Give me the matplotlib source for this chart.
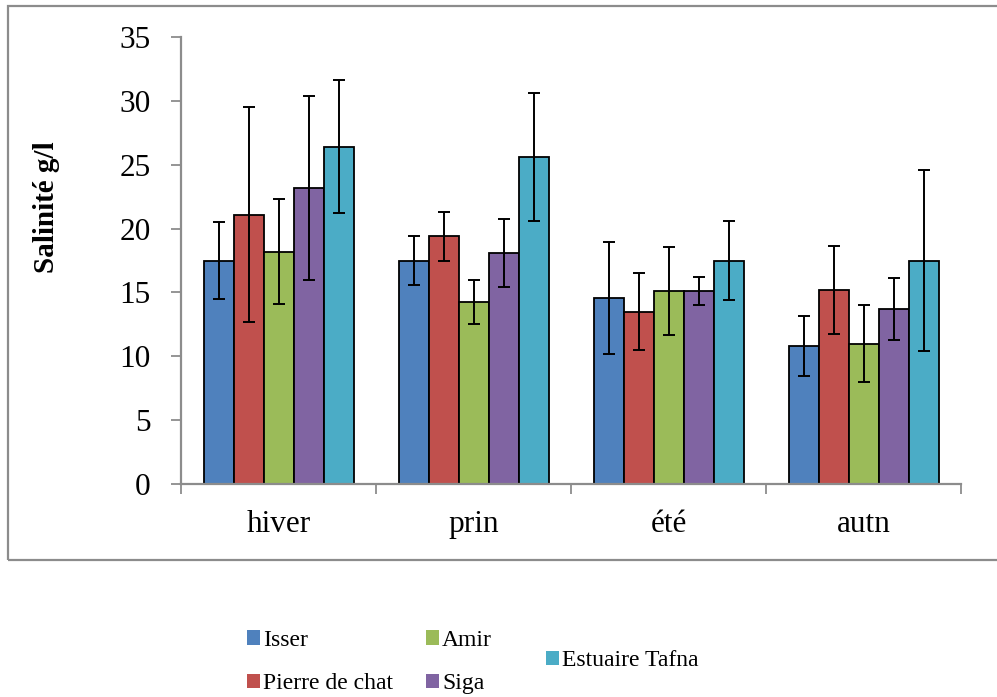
import numpy as np
import matplotlib
matplotlib.use("Agg")
import matplotlib.pyplot as plt
from matplotlib.patches import Rectangle, Patch

plt.rcParams["font.family"] = ["Liberation Serif", "DejaVu Serif"]

# données
saisons = ["hiver", "prin", "été", "autn"]
stations = ["Isser", "Pierre de chat", "Amir", "Siga", "Estuaire Tafna"]
couleurs = ["#4F81BD", "#C0504D", "#9BBB59", "#8064A2", "#4BACC6"]

isser = [17.5, 17.5, 14.55, 10.8]
pierre = [21.1, 19.4, 13.5, 15.2]
amir = [18.2, 14.25, 15.1, 11.0]
siga = [23.2, 18.1, 15.1, 13.7]
tafna = [26.4, 25.6, 17.5, 17.5]

err_isser = [3.0, 1.9, 4.4, 2.35]
err_pierre = [8.4, 1.9, 3.0, 3.45]
err_amir = [4.1, 1.7, 3.45, 3.0]
err_siga = [7.2, 2.65, 1.1, 2.4]
err_tafna = [5.2, 5.0, 3.1, 7.1]

valeurs = [isser, pierre, amir, siga, tafna]
erreurs = [err_isser, err_pierre, err_amir, err_siga, err_tafna]

fig = plt.figure(figsize=(9.97, 6.97), dpi=100)
fig.patch.set_facecolor("white")

# cadre extérieur du graphique
fig.patches.append(Rectangle((8 / 997, 1 - 560 / 697), 1.2, 554 / 697,
                             transform=fig.transFigure, fill=False,
                             edgecolor="#8c8c8c", linewidth=1.6, zorder=0))

ax = fig.add_axes([181 / 997, 1 - 484 / 697, (961 - 181) / 997, (484 - 37) / 697])

x = np.arange(len(saisons))
larg = 1 / 6.5
for i, (vals, errs) in enumerate(zip(valeurs, erreurs)):
    pos = x + (i - 2) * larg
    ax.bar(pos, vals, width=larg, color=couleurs[i], edgecolor="black",
           linewidth=1.3, label=stations[i], zorder=2)
    ax.errorbar(pos, vals, yerr=errs, fmt="none", ecolor="black",
                elinewidth=1.4, capsize=4.6, capthick=1.4, zorder=3)

ax.set_xlim(-0.5, len(saisons) - 0.5)
ax.set_ylim(0, 35)
ax.set_yticks(np.arange(0, 36, 5))

# graduations aux limites des catégories, étiquettes au centre
ax.set_xticks(np.arange(-0.5, len(saisons), 1))
ax.set_xticklabels([])
ax.set_xticks(x, minor=True)
ax.set_xticklabels(saisons, minor=True)
ax.tick_params(axis="x", which="major", direction="out", length=7,
               width=1.3, color="#8c8c8c")
ax.tick_params(axis="x", which="minor", length=0, pad=19, labelsize=22.5)
ax.tick_params(axis="y", direction="out", length=7, width=1.3,
               color="#8c8c8c", pad=15, labelsize=22.5)

for s in ["top", "right"]:
    ax.spines[s].set_visible(False)
for s in ["left", "bottom"]:
    ax.spines[s].set_color("#8c8c8c")
    ax.spines[s].set_linewidth(1.6)

ax.set_ylabel("Salinité g/l", fontsize=21, fontweight="bold")
ax.yaxis.set_label_coords(-0.155, 0.62)

# légende : deux colonnes de deux + Estuaire Tafna centré à droite
h = [Patch(facecolor=c, edgecolor="none") for c in couleurs]
fig.legend(h[:4], stations[:4], ncol=2, loc="center left",
           bbox_to_anchor=(247 / 997, 1 - 662 / 697), frameon=False,
           fontsize=17, handlelength=0.55, handleheight=0.55,
           handletextpad=0.12, columnspacing=1.42, labelspacing=0.95,
           borderpad=0, borderaxespad=0)
fig.legend(h[4:], stations[4:], loc="center left",
           bbox_to_anchor=(546 / 997, 1 - 661 / 697), frameon=False,
           fontsize=17, handlelength=0.55, handleheight=0.55,
           handletextpad=0.12, borderpad=0, borderaxespad=0)

fig.savefig("out.png", dpi=100, facecolor="white")
